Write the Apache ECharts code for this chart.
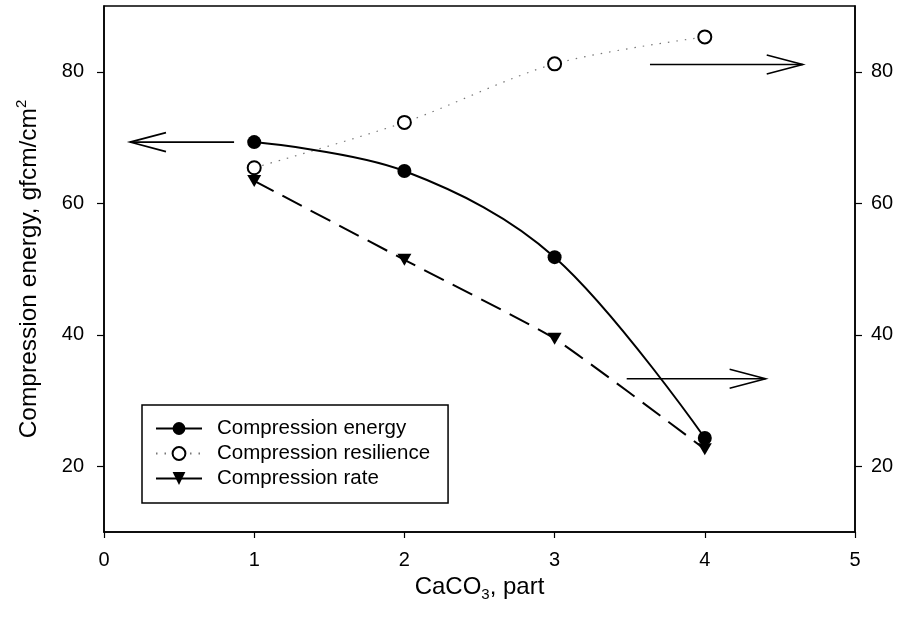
<!DOCTYPE html>
<html>
<head>
<meta charset="utf-8">
<script src="https://cdn.jsdelivr.net/npm/echarts@6/dist/echarts.min.js"></script>
<style>
  html, body { margin: 0; padding: 0; background: #fff; }
  #chart { width: 901px; height: 622px; }
</style>
</head>
<body>
<div id="chart"></div>
<script>
// CaCO3 loading (parts) and measured compression properties
const caco3Parts = [1, 2, 3, 4];
const compressionEnergy = [69.3, 64.9, 51.8, 24.3];
const compressionResilience = [65.4, 72.3, 81.2, 85.3];
const compressionRate = [63.4, 51.4, 39.4, 22.6];

// axis ticks
const xTickValues = [0, 1, 2, 3, 4, 5];
const yTickValues = [20, 40, 60, 80];

// guide arrows in data space: [x start, x tip, y]
const arrowToLeftAxis = [0.866, 0.173, 69.3];
const arrowUpperRight = [3.635, 4.652, 81.1];
const arrowLowerRight = [3.48, 4.405, 33.3];

const FONT = '"Liberation Sans", Arial, Helvetica, sans-serif';

const chart = echarts.init(document.getElementById('chart'), null, { renderer: 'canvas' });

const pairs = (ys) => caco3Parts.map((x, i) => [x, ys[i]]);

const yAxisCommon = {
  type: 'value',
  min: 10,
  max: 90,
  axisLine: { show: true, lineStyle: { color: '#000', width: 1.5 } },
  axisTick: { show: true, inside: false, length: 7, customValues: yTickValues, lineStyle: { color: '#000', width: 1.2 } },
  splitLine: { show: false },
  axisLabel: { customValues: yTickValues, color: '#000', fontSize: 20, fontFamily: FONT }
};

const option = {
  animation: false,
  backgroundColor: '#fff',
  grid: {
    left: 104, right: 46, top: 6, bottom: 90,
    show: true, borderColor: '#000', borderWidth: 1.5, backgroundColor: 'transparent'
  },
  xAxis: {
    type: 'value',
    min: 0,
    max: 5,
    interval: 1,
    name: '{t|CaCO}{sub|3}{t|, part}',
    nameLocation: 'middle',
    nameGap: 31,
    nameTextStyle: {
      color: '#000',
      fontFamily: FONT,
      rich: {
        t: { fontSize: 24, fontFamily: FONT, color: '#000', lineHeight: 30 },
        sub: { fontSize: 15, fontFamily: FONT, color: '#000', verticalAlign: 'bottom', lineHeight: 15 }
      }
    },
    axisLine: { show: true, lineStyle: { color: '#000', width: 1.5 } },
    axisTick: { show: true, inside: false, length: 6, lineStyle: { color: '#000', width: 1.2 } },
    splitLine: { show: false },
    axisLabel: { color: '#000', fontSize: 20, fontFamily: FONT, margin: 18 }
  },
  yAxis: [
    Object.assign({}, yAxisCommon, {
      position: 'left',
      name: '{t|Compression energy, gfcm/cm}{sup|2}',
      nameLocation: 'middle',
      nameGap: 60,
      nameTextStyle: {
        color: '#000',
        fontFamily: FONT,
        rich: {
          t: { fontSize: 24.5, fontFamily: FONT, color: '#000', lineHeight: 30 },
          sup: { fontSize: 15, fontFamily: FONT, color: '#000', verticalAlign: 'top', lineHeight: 15 }
        }
      },
      axisLabel: Object.assign({}, yAxisCommon.axisLabel, { margin: 20 })
    }),
    Object.assign({}, yAxisCommon, {
      position: 'right',
      axisLabel: Object.assign({}, yAxisCommon.axisLabel, { margin: 16 })
    })
  ],
  legend: {
    orient: 'vertical',
    left: 142,
    top: 405,
    padding: [13, 18, 14, 13],
    itemWidth: 46,
    itemHeight: 16,
    itemGap: 4,
    borderColor: '#000',
    borderWidth: 1.5,
    backgroundColor: '#fff',
    textStyle: { color: '#000', fontSize: 20.5, fontFamily: FONT, padding: [0, 0, 0, 10] },
    data: [
      { name: 'Compression energy' },
      { name: 'Compression resilience' },
      { name: 'Compression rate', lineStyle: { type: 'solid' } }
    ]
  },
  series: [
    {
      name: 'Compression energy',
      type: 'line',
      xAxisIndex: 0,
      yAxisIndex: 0,
      data: pairs(compressionEnergy),
      smooth: 0.35,
      symbol: 'circle',
      symbolSize: 14,
      itemStyle: { color: '#000' },
      lineStyle: { color: '#000', width: 2 },
      z: 4
    },
    {
      name: 'Compression resilience',
      type: 'line',
      xAxisIndex: 0,
      yAxisIndex: 1,
      data: pairs(compressionResilience),
      smooth: 0.3,
      symbol: 'emptyCircle',
      symbolSize: 13,
      itemStyle: { color: '#000', borderWidth: 2, borderColor: '#000' },
      lineStyle: { color: '#777', width: 1.2, type: [1.5, 7] },
      z: 3
    },
    {
      name: 'Compression rate',
      type: 'line',
      xAxisIndex: 0,
      yAxisIndex: 1,
      data: pairs(compressionRate),
      smooth: 0.15,
      symbol: 'triangle',
      symbolRotate: 180,
      symbolSize: [14, 12],
      itemStyle: { color: '#000' },
      lineStyle: { color: '#000', width: 2, type: [22, 10] },
      z: 4
    }
  ]
};

chart.setOption(option);

// Draw an open-headed arrow along a constant y, converted from data space
function arrowElements(spec) {
  const p0 = chart.convertToPixel({ xAxisIndex: 0, yAxisIndex: 0 }, [spec[0], spec[2]]);
  const p1 = chart.convertToPixel({ xAxisIndex: 0, yAxisIndex: 0 }, [spec[1], spec[2]]);
  const dir = p1[0] > p0[0] ? 1 : -1;
  const headLen = 36, headHalf = 9.5;
  return [
    {
      type: 'line',
      shape: { x1: p0[0], y1: p0[1], x2: p1[0], y2: p1[1] },
      style: { stroke: '#000', lineWidth: 1.6 },
      z: 10
    },
    {
      type: 'polyline',
      shape: { points: [[p1[0] - dir * headLen, p1[1] - headHalf], [p1[0], p1[1]], [p1[0] - dir * headLen, p1[1] + headHalf]] },
      style: { stroke: '#000', fill: null, lineWidth: 1.6 },
      z: 10
    }
  ];
}

chart.setOption({
  graphic: [].concat(
    arrowElements(arrowToLeftAxis),
    arrowElements(arrowUpperRight),
    arrowElements(arrowLowerRight)
  )
});
</script>
</body>
</html>
